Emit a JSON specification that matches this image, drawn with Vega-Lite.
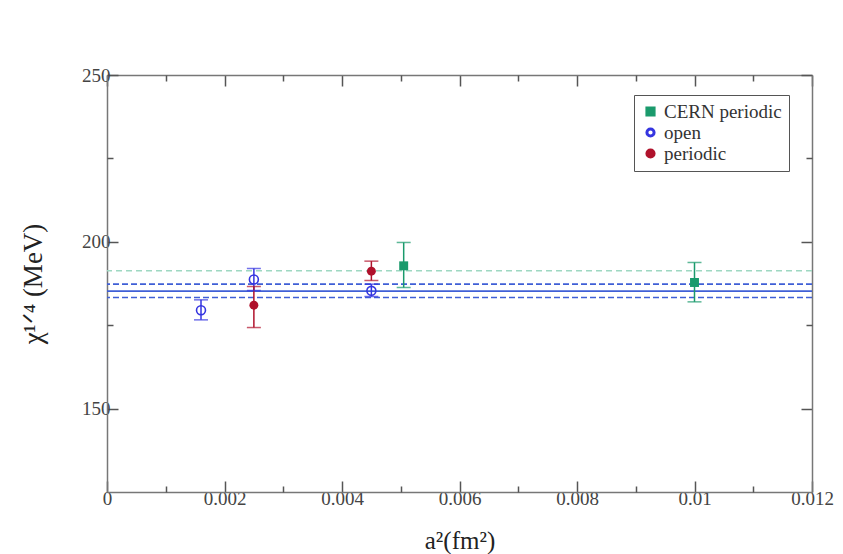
{
  "$schema": "https://vega.github.io/schema/vega-lite/v6.json",
  "width": 705,
  "height": 417,
  "autosize": "none",
  "padding": {"left": 107, "top": 75, "right": 31, "bottom": 62},
  "background": "white",
  "config": {"view": {"stroke": null}, "font": "Liberation Serif"},
  "datasets": {
    "points": [
      {"series": "CERN periodic", "a2": 0.00505, "chi": 192.8, "lo": 186.3, "hi": 199.8},
      {"series": "CERN periodic", "a2": 0.0100, "chi": 187.8, "lo": 182.0, "hi": 193.8},
      {"series": "open", "a2": 0.0016, "chi": 179.5, "lo": 176.6, "hi": 182.6},
      {"series": "open", "a2": 0.0025, "chi": 188.7, "lo": 185.4, "hi": 192.0},
      {"series": "open", "a2": 0.0045, "chi": 185.3, "lo": 183.6, "hi": 187.3},
      {"series": "periodic", "a2": 0.0025, "chi": 181.0, "lo": 174.3, "hi": 186.6},
      {"series": "periodic", "a2": 0.0045, "chi": 191.2, "lo": 188.4, "hi": 194.2}
    ],
    "fits": [
      {"fit": "CERN periodic fit", "value": 191.3},
      {"fit": "open fit upper", "value": 187.3},
      {"fit": "open fit central", "value": 185.2},
      {"fit": "open fit lower", "value": 183.3}
    ]
  },
  "resolve": {"axis": {"x": "independent", "y": "independent"}},
  "layer": [
    {
      "data": {"name": "fits"},
      "transform": [{"filter": "datum.fit == 'CERN periodic fit'"}],
      "mark": {"type": "rule", "color": "#9ed8c2", "strokeWidth": 1.5, "strokeDash": [6, 4]},
      "encoding": {"y": {"field": "value", "type": "quantitative", "scale": {"domain": [125, 250]}, "axis": null}}
    },
    {
      "data": {"name": "fits"},
      "transform": [{"filter": "datum.fit == 'open fit upper' || datum.fit == 'open fit lower'"}],
      "mark": {"type": "rule", "color": "#3f5fd6", "strokeWidth": 1.6, "strokeDash": [6, 3]},
      "encoding": {"y": {"field": "value", "type": "quantitative", "scale": {"domain": [125, 250]}, "axis": null}}
    },
    {
      "data": {"name": "fits"},
      "transform": [{"filter": "datum.fit == 'open fit central'"}],
      "mark": {"type": "rule", "color": "#3f5fd6", "strokeWidth": 1.6},
      "encoding": {"y": {"field": "value", "type": "quantitative", "scale": {"domain": [125, 250]}, "axis": null}}
    },
    {
      "data": {"name": "points"},
      "mark": {"type": "point", "filled": true, "size": 80, "opacity": 1},
      "transform": [{"filter": "datum.series != 'open'"}],
      "encoding": {
        "x": {
          "field": "a2", "type": "quantitative", "scale": {"domain": [0, 0.012]},
          "axis": {
            "orient": "bottom",
            "values": [0, 0.002, 0.004, 0.006, 0.008, 0.01, 0.012],
            "labelExpr": "toString(round(datum.value*1000)/1000)",
            "tickSize": -11,
            "tickColor": "#555", "tickWidth": 1.5,
            "domainColor": "#777", "domainWidth": 1.5,
            "labelFont": "Liberation Serif", "labelFontSize": 19, "labelColor": "#444", "labelPadding": 8,
            "labelFlush": false, "labelOverlap": false,
            "grid": false,
            "title": "a²(fm²)", "titleFont": "Liberation Serif", "titleFontSize": 25, "titleFontWeight": "normal", "titleColor": "#222", "titlePadding": 20
          }
        },
        "y": {
          "field": "chi", "type": "quantitative", "scale": {"domain": [125, 250]},
          "axis": {
            "orient": "left",
            "values": [150, 200, 250],
            "tickSize": -11,
            "tickColor": "#555", "tickWidth": 1.5,
            "domainColor": "#777", "domainWidth": 1.5,
            "labelFont": "Liberation Serif", "labelFontSize": 19, "labelColor": "#444", "labelPadding": 8,
            "labelFlush": false, "labelOverlap": false,
            "grid": false,
            "title": "χ¹ᐟ⁴ (MeV)", "titleFont": "Liberation Serif", "titleFontSize": 27, "titleFontWeight": "normal", "titleColor": "#222", "titlePadding": 34
          }
        },
        "color": {
          "field": "series", "type": "nominal",
          "scale": {"domain": ["CERN periodic", "open", "periodic"], "range": ["#1a9a6c", "#3535e0", "#b0122c"]},
          "legend": {
            "title": null, "orient": "none", "legendX": 527, "legendY": 20,
            "strokeColor": "#555", "fillColor": "white", "padding": 7,
            "labelFont": "Liberation Serif", "labelFontSize": 19, "labelColor": "#333",
            "symbolSize": 75, "rowPadding": 1
          }
        },
        "shape": {
          "field": "series", "type": "nominal",
          "scale": {"domain": ["CERN periodic", "open", "periodic"], "range": ["square", "M -1 0 A 1 1 0 1 0 1 0 A 1 1 0 1 0 -1 0 Z M -0.66 0 A 0.66 0.66 0 1 1 0.66 0 A 0.66 0.66 0 1 1 -0.66 0 Z", "circle"]},
          "legend": {
            "title": null, "orient": "none", "legendX": 527, "legendY": 20,
            "strokeColor": "#555", "fillColor": "white", "padding": 7,
            "labelFont": "Liberation Serif", "labelFontSize": 19, "labelColor": "#333",
            "symbolSize": 75, "rowPadding": 1
          }
        }
      }
    },
    {
      "data": {"name": "points"},
      "transform": [{"filter": "datum.series == 'open'"}],
      "mark": {"type": "point", "shape": "circle", "filled": false, "strokeWidth": 1.6, "size": 80, "opacity": 1},
      "encoding": {
        "x": {"field": "a2", "type": "quantitative", "scale": {"domain": [0, 0.012]}, "axis": null},
        "y": {"field": "chi", "type": "quantitative", "scale": {"domain": [125, 250]}, "axis": null},
        "color": {"field": "series", "type": "nominal"}
      }
    },
    {
      "data": {"name": "points"},
      "mark": {"type": "rule", "strokeWidth": 1.5},
      "encoding": {
        "x": {"field": "a2", "type": "quantitative", "scale": {"domain": [0, 0.012]}, "axis": null},
        "y": {"field": "lo", "type": "quantitative", "scale": {"domain": [125, 250]}, "axis": null},
        "y2": {"field": "hi"},
        "color": {"field": "series", "type": "nominal"}
      }
    },
    {
      "data": {"name": "points"},
      "mark": {"type": "tick", "orient": "horizontal", "size": 14, "thickness": 1.5},
      "encoding": {
        "x": {"field": "a2", "type": "quantitative", "scale": {"domain": [0, 0.012]}, "axis": null},
        "y": {"field": "lo", "type": "quantitative", "scale": {"domain": [125, 250]}, "axis": null},
        "color": {"field": "series", "type": "nominal"}
      }
    },
    {
      "data": {"name": "points"},
      "mark": {"type": "tick", "orient": "horizontal", "size": 14, "thickness": 1.5},
      "encoding": {
        "x": {"field": "a2", "type": "quantitative", "scale": {"domain": [0, 0.012]}, "axis": null},
        "y": {"field": "hi", "type": "quantitative", "scale": {"domain": [125, 250]}, "axis": null},
        "color": {"field": "series", "type": "nominal"}
      }
    },
    {
      "data": {"name": "points"},
      "mark": {"type": "point", "opacity": 0},
      "encoding": {
        "x": {
          "field": "a2", "type": "quantitative", "scale": {"domain": [0, 0.012]},
          "axis": {
            "orient": "bottom", "values": [0.001, 0.003, 0.005, 0.007, 0.009, 0.011],
            "labels": false, "title": null, "grid": false, "domain": false,
            "tickSize": -6, "tickColor": "#555", "tickWidth": 1.5
          }
        },
        "y": {
          "field": "chi", "type": "quantitative", "scale": {"domain": [125, 250]},
          "axis": {
            "orient": "left", "values": [175, 225],
            "labels": false, "title": null, "grid": false, "domain": false,
            "tickSize": -6, "tickColor": "#555", "tickWidth": 1.5
          }
        }
      }
    },
    {
      "data": {"name": "points"},
      "mark": {"type": "point", "opacity": 0},
      "encoding": {
        "x": {
          "field": "a2", "type": "quantitative", "scale": {"domain": [0, 0.012]},
          "axis": {
            "orient": "top", "values": [0, 0.002, 0.004, 0.006, 0.008, 0.01, 0.012],
            "labels": false, "title": null, "grid": false,
            "tickSize": -11, "tickColor": "#555", "tickWidth": 1.5,
            "domainColor": "#777", "domainWidth": 1.5
          }
        },
        "y": {
          "field": "chi", "type": "quantitative", "scale": {"domain": [125, 250]},
          "axis": {
            "orient": "right", "values": [150, 200, 250],
            "labels": false, "title": null, "grid": false,
            "tickSize": -11, "tickColor": "#555", "tickWidth": 1.5,
            "domainColor": "#777", "domainWidth": 1.5
          }
        }
      }
    },
    {
      "data": {"name": "points"},
      "mark": {"type": "point", "opacity": 0},
      "encoding": {
        "x": {
          "field": "a2", "type": "quantitative", "scale": {"domain": [0, 0.012]},
          "axis": {
            "orient": "top", "values": [0.001, 0.003, 0.005, 0.007, 0.009, 0.011],
            "labels": false, "title": null, "grid": false, "domain": false,
            "tickSize": -6, "tickColor": "#555", "tickWidth": 1.5
          }
        },
        "y": {
          "field": "chi", "type": "quantitative", "scale": {"domain": [125, 250]},
          "axis": {
            "orient": "right", "values": [175, 225],
            "labels": false, "title": null, "grid": false, "domain": false,
            "tickSize": -6, "tickColor": "#555", "tickWidth": 1.5
          }
        }
      }
    }
  ]
}
